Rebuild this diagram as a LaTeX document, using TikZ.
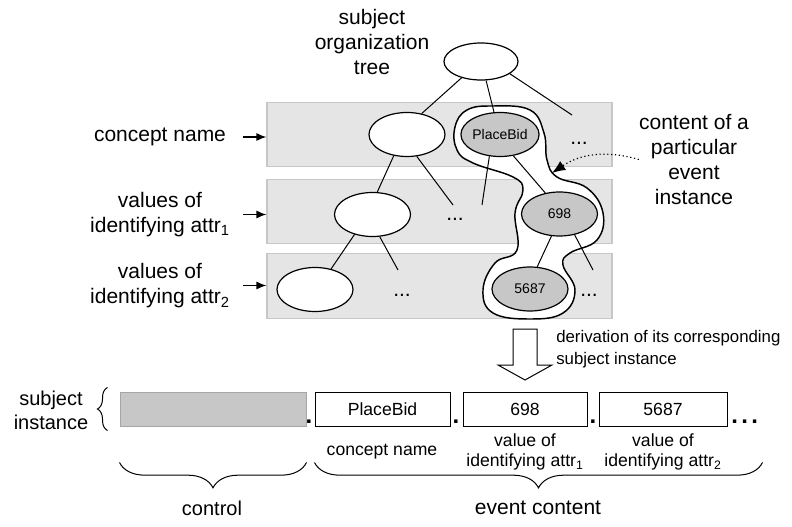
\documentclass[tikz,border=0pt]{standalone}
\usepackage{fontspec}
\setmainfont{Liberation Sans}
\usetikzlibrary{shapes.geometric,arrows.meta,decorations.pathreplacing,positioning}

\begin{document}
\begin{tikzpicture}[x=0.75pt,y=-0.75pt,
  band/.style={draw=black!22,fill=black!10,line width=0.9pt,minimum width=258.75pt,minimum height=48.5pt,inner sep=0pt},
  elli/.style={ellipse,draw,fill=white,line width=0.9pt,minimum width=57pt,minimum height=33pt,inner sep=0pt,font=\fontsize{10.5}{12}\selectfont},
  picked/.style={elli,fill=black!22},
  big/.style={font=\fontsize{15.75}{18.75}\selectfont,align=center},
  small/.style={font=\fontsize{13.2}{15}\selectfont,align=center},
  tie/.style={line width=0.75pt},
  arr/.style={-{Latex[length=7.5pt,width=6pt]},line width=0.9pt},
  field/.style={draw,line width=0.75pt,minimum height=25.5pt,inner sep=0pt,font=\fontsize{13.2}{15}\selectfont},
  brc/.style={decorate,decoration={brace,mirror,amplitude=19pt},line width=0.75pt},
  sep/.style={anchor=base,inner sep=0pt,font=\fontsize{18}{18}\bfseries}]
\useasboundingbox (0,0) rectangle (792,527);

\node(bandA) [band] at (439.5,134.5) {};
\node(bandB) [band] at (439.5,211.5) {};
\node(bandC) [band] at (439.5,286) {};

\node(tree) [big] at (372,42) {subject\\organization\\tree};
\node(lblA) [big] at (160,137) {concept name};
\node(lblB) [big] at (160,214.5) {values of\\identifying attr\textsubscript{1}};
\node(lblC) [big] at (160,285.5) {values of\\identifying attr\textsubscript{2}};
\coordinate (arrx) at (243,0);
\draw[arr] (lblA.east -| arrx) -- (lblA.east -| bandA.west);
\draw[arr] (lblB.east -| arrx) -- (lblB.east -| bandB.west);
\draw[arr] (lblC.east -| arrx) -- (lblC.east -| bandC.west);

\draw[line width=1.1pt,fill=white] plot[smooth cycle,tension=0.7] coordinates {
  (493,106) (530,110) (544,133) (547,160) (557,177) (587,188) (603,213)
  (597,240) (570,253) (563,265) (575,290) (563,313) (530,319) (493,313)
  (483,290) (495,263) (517,250) (515,213) (523,190) (513,177) (473,163)
  (457,150) (455,127) (467,110)};

\node(root) [elli,minimum width=55.5pt,minimum height=27.75pt] at (481,61.5) {};
\node(cname) [elli] at (407,134.5) {};
\node(pbid) [picked] at (500,134.5) {PlaceBid};
\node(attA) [elli] at (372.5,214.5) {};
\node(v698) [picked] at (559.5,214) {698};
\node(attB) [elli] at (315,289.5) {};
\node(v5687) [picked] at (530,289) {5687};

\coordinate (rootR) at (572,115);
\coordinate (cnameR) at (453,205);
\coordinate (pbidL) at (482,205);
\coordinate (attAR) at (398,270);
\coordinate (v698R) at (593,270);
\draw[tie] (root.220) -- (cname.55);
\draw[tie] (root.285) -- (pbid.105);
\draw[tie] (root.337) -- (rootR);
\draw[tie] (cname.238) -- (attA.78);
\draw[tie] (cname.294) -- (cnameR);
\draw[tie] (pbid.244) -- (pbidL);
\draw[tie] (pbid.302) -- (v698.124);
\draw[tie] (attA.228) -- (attB.52);
\draw[tie] (attA.288) -- (attAR);
\draw[tie] (v698.250) -- (v5687.72);
\draw[tie] (v698.306) -- (v698R);

\node(dotsA) [big] at (579,143) {...};
\node(dotsB) [big] at (455,219) {...};
\node(dotsC) [big] at (402,295) {...};
\node(dotsD) [big] at (589,295) {...};

\node(content) [big,inner sep=0pt] at (694,159.5) {content of a\\particular\\event\\instance};
\coordinate (blobtip) at (552,173);
\draw[dotted,line width=0.9pt,-{Latex[length=10pt,width=8pt]}] (content.west) to[bend right=25] (blobtip);

\draw[line width=0.75pt,fill=white] (513,329) -- (537,329) -- (537,365) -- (552,365)
  -- (525,380) -- (498,365) -- (513,365) -- cycle;
\node(derive) [anchor=west,align=left,inner sep=0pt,font=\fontsize{12.6}{16.5}\selectfont] at (556,349) {derivation of its corresponding\\subject instance};

\node(inst) [align=center,font=\fontsize{15}{18}\selectfont] at (51,410) {subject\\instance};
\node(ctrl) [field,fill=black!22,draw=black!35,minimum width=139.5pt] at (213,409) {};
\node(pbox) [field,minimum width=101.25pt] at (382.5,409) {PlaceBid};
\node(b698) [field,minimum width=93pt] at (525,409) {698};
\node(b5687) [field,minimum width=96pt] at (663,409) {5687};
\draw[decorate,decoration={brace,amplitude=7.5pt},line width=0.75pt]
  ([xshift=-9pt,yshift=-3pt]ctrl.south west) -- ([xshift=-9pt,yshift=3pt]ctrl.north west);
\node(sepA) [sep] at (309,423) {.};
\node(sepB) [sep] at (456,423) {.};
\node(sepC) [sep] at (593,423) {.};
\node(more) [sep,anchor=base west] at (731,423) {.\hspace{2.5pt}.\hspace{2.5pt}.};

\node(lblname) [small] at (382,452) {concept name};
\node(lblv1) [small] at (525,452) {value of\\identifying attr\textsubscript{1}};
\node(lblv2) [small] at (663,452) {value of\\identifying attr\textsubscript{2}};

\draw[brc] ([yshift=-27pt]ctrl.south west) -- ([yshift=-27pt]ctrl.south east);
\draw[brc] ([yshift=-27pt]pbox.south west) -- ([yshift=-27pt,xshift=26.25pt]b5687.south east);
\node(ctrllbl) [font=\fontsize{15}{18}\selectfont] at (212,508) {control};
\node(evlbl) [big] at (538,508) {event content};
\end{tikzpicture}
\end{document}
